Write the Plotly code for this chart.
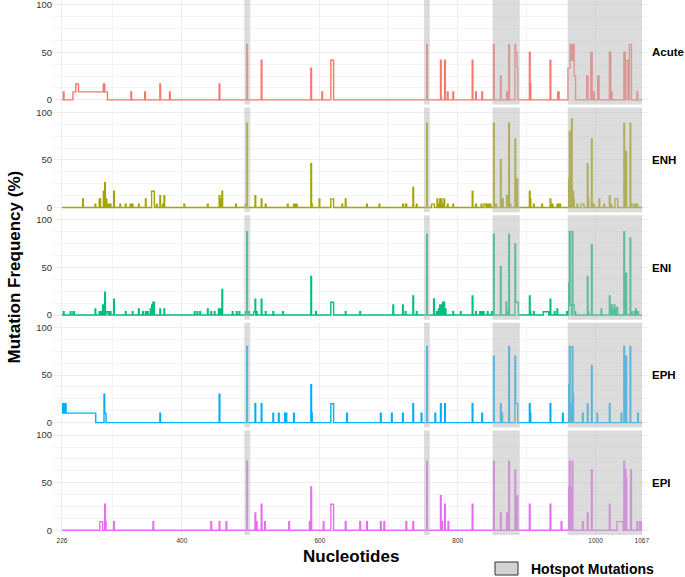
import plotly.graph_objects as go
from plotly.subplots import make_subplots

# ---------------- data ----------------
X_START, X_END = 226, 1067
GROUPS = ["Acute", "ENH", "ENI", "EPH", "EPI"]
COLORS = ["#F8766D", "#A3A500", "#00BF7D", "#00B0F6", "#E76BF3"]
X_TICKS = [226, 400, 600, 800, 1000, 1067]
Y_TICKS = [0, 50, 100]
HOTSPOTS = [(490.5, 498.5), (751, 759.5), (850.5, 890), (959.5, 1067)]

U = 100 / 12  # Acute step
ACUTE = [(228, 228, U), (242, 245, U), (246, 249, 2*U), (250, 285, U), (286, 287, 2*U),
         (288, 291, U), (326, 326, U), (346, 346, U), (368, 368, 2*U), (382, 382, U),
         (454, 454, 2*U), (494, 494, 7*U), (515, 515, 5*U), (587, 587, 4*U), (603, 603, U),
         (616, 619, 5*U), (755, 755, 7*U), (775, 775, 5*U), (781, 781, 5*U), (785, 785, U),
         (793, 793, U), (821, 821, 5*U), (826, 826, U), (835, 835, U), (852, 852, 7*U),
         (862, 862, 3*U), (871, 871, U), (874, 874, 7*U), (883, 883, 7*U), (884, 885, 6*U),
         (886, 886, 4*U), (904, 904, 6*U), (905, 905, 2*U), (934, 934, 5*U), (945, 946, U),
         (960, 962, 4*U), (963, 964, 7*U), (965, 966, 5*U), (967, 968, 7*U), (969, 970, 3*U),
         (987, 988, 3*U), (993, 994, 6*U), (997, 997, U), (1003, 1004, 3*U), (1020, 1021, 6*U),
         (1023, 1023, U), (1041, 1042, 6*U), (1044, 1046, 5*U), (1049, 1051, 7*U), (1060, 1060, U)]

ENH = [(256, 256, 9), (274, 274, 3.5), (280, 281, 9), (286, 286, 17), (288, 288, 26),
       (290, 290, 9), (292, 292, 3.5), (295, 296, 3.5), (301, 301, 17), (310, 310, 3.5),
       (318, 318, 3.5), (325, 325, 3.5), (327, 328, 3.5), (337, 337, 3.5), (347, 347, 9),
       (356, 359, 17), (363, 363, 3.5), (368, 368, 12.4), (372, 372, 3.5), (374, 374, 12.4),
       (403, 403, 3.5), (437, 437, 3.5), (454, 454, 12.4), (455, 455, 9), (458, 458, 17),
       (478, 478, 3.5), (492, 492, 3.5), (494, 494, 88.7), (506, 506, 12.4), (515, 515, 9),
       (521, 521, 3.5), (553, 553, 3.5), (562, 563, 3.5), (566, 566, 3.5), (587, 587, 46),
       (588, 588, 3.5), (599, 599, 9), (616, 619, 9), (632, 632, 3.5), (637, 637, 9),
       (668, 668, 3.5), (686, 686, 3.5), (720, 720, 3.5), (724, 725, 3.5), (735, 735, 21),
       (740, 740, 3.5), (755, 755, 88.7), (762, 765, 3.5), (770, 770, 9), (772, 772, 3.5),
       (774, 774, 9), (776, 776, 9), (778, 778, 3.5), (780, 780, 9), (785, 785, 3.5),
       (793, 793, 3.5), (821, 821, 17), (826, 826, 3.5), (834, 834, 3.5), (838, 840, 3.5),
       (843, 844, 3.5), (847, 847, 3.5), (852, 852, 88.7), (855, 855, 3.5), (862, 862, 50.5),
       (865, 865, 9), (871, 871, 12.4), (874, 874, 88.7), (876, 876, 3.5), (883, 883, 72),
       (886, 886, 30), (904, 904, 17), (905, 905, 9), (910, 910, 3.5), (922, 922, 3.5),
       (934, 934, 9), (937, 937, 3.5), (944, 945, 3.5), (948, 948, 3.5), (961, 961, 30),
       (962, 962, 80), (964, 964, 17), (965, 965, 93), (967, 967, 17), (968, 968, 9),
       (973, 973, 3.5), (979, 982, 3.5), (988, 988, 46), (989, 989, 9), (994, 994, 72),
       (997, 997, 3.5), (1005, 1005, 9), (1012, 1012, 3.5), (1020, 1020, 12.4), (1022, 1022, 3.5),
       (1028, 1031, 9), (1041, 1041, 88.7), (1043, 1044, 59), (1050, 1050, 88.7),
       (1052, 1052, 3.5), (1056, 1057, 3.5), (1059, 1060, 3.5)]

ENI = [(228, 228, 3.5), (238, 238, 3.5), (242, 243, 3.5), (274, 274, 6.4), (280, 280, 3.5),
       (282, 282, 3.5), (285, 285, 10.6), (288, 288, 24), (290, 292, 3.5), (295, 296, 3.5),
       (301, 301, 16.6), (318, 318, 3.5), (328, 328, 3.5), (337, 337, 6.4), (343, 343, 3.5),
       (347, 347, 3.5), (350, 350, 3.5), (354, 354, 6.4), (356, 356, 10.6), (358, 359, 13.4),
       (368, 368, 6.4), (374, 374, 6.4), (418, 418, 3.5), (422, 422, 3.5), (426, 426, 3.5),
       (437, 437, 6.4), (442, 442, 3.5), (447, 447, 3.5), (453, 453, 6.4), (456, 456, 6.4),
       (458, 458, 27), (473, 473, 3.5), (479, 479, 3.5), (483, 483, 3.5), (492, 492, 3.5),
       (494, 494, 87.6), (497, 497, 3.5), (504, 505, 3.5), (506, 506, 16.6), (508, 508, 3.5),
       (515, 515, 16.6), (521, 521, 3.5), (532, 532, 3.5), (546, 546, 3.5), (587, 587, 40.6),
       (594, 594, 3.5), (616, 619, 13.4), (637, 637, 3.5), (658, 658, 3.5), (706, 706, 10.6),
       (720, 720, 10.6), (724, 724, 3.5), (735, 735, 20), (740, 740, 3.5), (755, 755, 85),
       (765, 765, 17), (769, 769, 3.5), (772, 772, 6.4), (774, 774, 10.6), (776, 776, 10.6),
       (778, 778, 13.4), (780, 780, 13.4), (782, 782, 6.4), (793, 793, 3.5), (804, 804, 3.5),
       (821, 821, 20), (826, 826, 3.5), (832, 832, 3.5), (834, 834, 3.5), (837, 837, 3.5),
       (843, 843, 3.5), (849, 849, 3.5), (852, 852, 85), (862, 862, 51), (870, 870, 13.4),
       (872, 872, 3.5), (874, 874, 85), (883, 883, 75), (884, 887, 13.4), (904, 904, 20),
       (905, 905, 3.5), (910, 910, 3.5), (924, 931, 3.5), (934, 934, 16.6), (940, 940, 3.5),
       (944, 944, 6.4), (958, 958, 3.5), (961, 961, 33.6), (962, 962, 88), (963, 964, 10.6),
       (966, 966, 88), (967, 968, 10.6), (970, 970, 3.5), (988, 988, 40.6), (989, 989, 3.5),
       (994, 994, 74), (1008, 1008, 6.4), (1020, 1020, 20), (1022, 1023, 10.6), (1025, 1025, 6.4),
       (1027, 1027, 10.6), (1029, 1029, 6.4), (1031, 1031, 8), (1041, 1041, 87.6),
       (1043, 1044, 44), (1050, 1050, 81), (1052, 1052, 3.5), (1056, 1056, 3.5),
       (1058, 1058, 6.4), (1061, 1061, 3.5)]

EPH = [(226, 226, 20), (227, 227, 10), (228, 228, 20), (229, 229, 10), (230, 231, 20),
       (232, 274, 10), (287, 287, 30), (288, 289, 10), (368, 368, 10), (454, 454, 30),
       (494, 494, 80), (506, 506, 20), (515, 515, 20), (532, 532, 10), (540, 540, 10),
       (549, 549, 10), (551, 551, 10), (562, 562, 10), (587, 587, 40), (588, 588, 10),
       (616, 619, 20), (639, 639, 10), (688, 688, 10), (704, 704, 10), (720, 720, 10),
       (735, 735, 20), (747, 747, 10), (755, 755, 80), (767, 767, 10), (775, 775, 20),
       (781, 781, 20), (821, 821, 20), (835, 835, 10), (852, 852, 70), (862, 862, 20),
       (864, 864, 10), (874, 874, 80), (883, 883, 70), (884, 886, 20), (904, 904, 20),
       (905, 905, 10), (934, 934, 20), (952, 952, 10), (961, 961, 40), (962, 962, 80),
       (964, 964, 20), (966, 966, 80), (967, 967, 30), (981, 981, 10), (988, 988, 20),
       (994, 994, 60), (1002, 1002, 10), (1020, 1020, 20), (1037, 1037, 10), (1041, 1041, 80),
       (1043, 1044, 70), (1050, 1050, 80), (1061, 1061, 10)]

V = 100 / 11  # EPI step
EPI = [(281, 284, V), (288, 288, 3*V), (289, 289, V), (301, 301, V), (358, 358, V),
       (442, 442, V), (454, 454, V), (464, 464, V), (494, 494, 8*V), (506, 506, 2*V),
       (508, 508, V), (515, 515, 3*V), (520, 520, V), (555, 555, V), (585, 585, V),
       (587, 587, 5*V), (605, 605, V), (616, 619, 3*V), (637, 637, V), (658, 658, V),
       (668, 668, V), (688, 688, V), (693, 693, V), (725, 725, V), (735, 735, V),
       (755, 755, 8*V), (775, 775, 4*V), (777, 777, V), (781, 781, 3*V), (786, 786, V),
       (821, 821, 3*V), (852, 852, 8*V), (862, 862, 2*V), (871, 871, 2*V), (874, 874, 8*V),
       (883, 883, 7*V), (884, 884, 2*V), (886, 886, 4*V), (904, 904, 3*V), (934, 934, 3*V),
       (950, 950, V), (961, 961, 5*V), (962, 962, 8*V), (964, 964, 5*V), (966, 966, 8*V),
       (981, 981, V), (988, 988, 2*V), (994, 994, 7*V), (1020, 1020, 3*V), (1031, 1039, V),
       (1041, 1041, 8*V), (1043, 1043, 7*V), (1044, 1044, 6*V), (1051, 1051, 7*V),
       (1060, 1060, V), (1064, 1065, V)]

SERIES = [ACUTE, ENH, ENI, EPH, EPI]

# ---------------- figure ----------------
W, H = 685, 577
ML, MR, MT, MB = 53, 37, 0, 42
PW, PH = W - ML - MR, H - MT - MB
FONT = "Liberation Sans, Arial, sans-serif"

fig = make_subplots(rows=5, cols=1, shared_xaxes=True, vertical_spacing=3 / PH)

positions = list(range(X_START, X_END + 1))
for i, (name, segs, col) in enumerate(zip(GROUPS, SERIES, COLORS)):
    vals = [0.0] * len(positions)
    for s, e, v in segs:
        for p in range(s, e + 1):
            vals[p - X_START] = v
    fig.add_trace(go.Scatter(x=positions, y=vals, mode="lines", name=name,
                             line=dict(color=col, width=1.4, shape="hv"), showlegend=False),
                  row=i + 1, col=1)
    for x0, x1 in HOTSPOTS:
        fig.add_shape(type="rect", xref=f"x{i+1 if i else ''}", yref=f"y{i+1 if i else ''} domain",
                      x0=x0, x1=x1, y0=0, y1=1, layer="above",
                      fillcolor="rgba(185,185,185,0.5)", line=dict(width=0))
    fig.add_annotation(text=f"<b>{name}</b>", xref="paper", yref=f"y{i+1 if i else ''} domain",
                       x=1.004, y=0.5, xanchor="left", yanchor="middle", showarrow=False,
                       font=dict(family=FONT, size=11.5, color="black"))

grid_y = [12.5, 25, 37.5, 62.5, 75, 87.5]
for i in range(5):
    fig.update_yaxes(range=[-5, 105], tickvals=Y_TICKS, ticktext=[str(t) for t in Y_TICKS],
                     showgrid=True, gridcolor="#EDEDED", gridwidth=0.8, zeroline=False,
                     showline=False, ticks="", ticklabeloverflow="allow",
                     tickfont=dict(family=FONT, size=9.5, color="#333333"),
                     minor=dict(tickvals=grid_y, showgrid=True, gridcolor="#F3F3F3", gridwidth=0.8),
                     row=i + 1, col=1)
    fig.update_xaxes(range=[213, 1076], tickvals=X_TICKS, ticktext=[str(t) for t in X_TICKS],
                     showticklabels=(i == 4), showgrid=True, gridcolor="#EDEDED", gridwidth=0.8,
                     zeroline=False, showline=False, ticks="", ticklabeloverflow="allow",
                     tickfont=dict(family=FONT, size=6.5, color="#333333"),
                     minor=dict(tickvals=[300, 500, 700, 900], showgrid=True,
                                gridcolor="#F3F3F3", gridwidth=0.8),
                     row=i + 1, col=1)

# axis titles
fig.add_annotation(text="<b>Mutation Frequency (%)</b>", xref="paper", yref="paper",
                   x=(14 - ML) / PW, y=0.5, textangle=-90, showarrow=False,
                   xanchor="center", yanchor="middle",
                   font=dict(family=FONT, size=17, color="black"))
fig.add_annotation(text="<b>Nucleotides</b>", xref="paper", yref="paper",
                   x=0.5, y=-(556.5 - PH) / PH, showarrow=False,
                   xanchor="center", yanchor="middle",
                   font=dict(family=FONT, size=17, color="black"))

# legend
fig.add_shape(type="rect", xref="paper", yref="paper",
              x0=(495 - ML) / PW, x1=(518 - ML) / PW,
              y0=-(562 - PH) / PH, y1=-(575 - PH) / PH,
              fillcolor="#D3D3D3", line=dict(color="#333333", width=1))
fig.add_annotation(text="<b>Hotspot Mutations</b>", xref="paper", yref="paper",
                   x=(529 - ML) / PW, y=-(568.5 - PH) / PH, showarrow=False,
                   xanchor="left", yanchor="middle",
                   font=dict(family=FONT, size=14, color="black"))

fig.update_layout(width=W, height=H, margin=dict(l=ML, r=MR, t=MT, b=MB),
                  plot_bgcolor="white", paper_bgcolor="white", showlegend=False)

fig.write_html("out.html", config={"displayModeBar": False},
               post_script="document.body.style.margin='0';document.body.style.overflow='hidden';")
